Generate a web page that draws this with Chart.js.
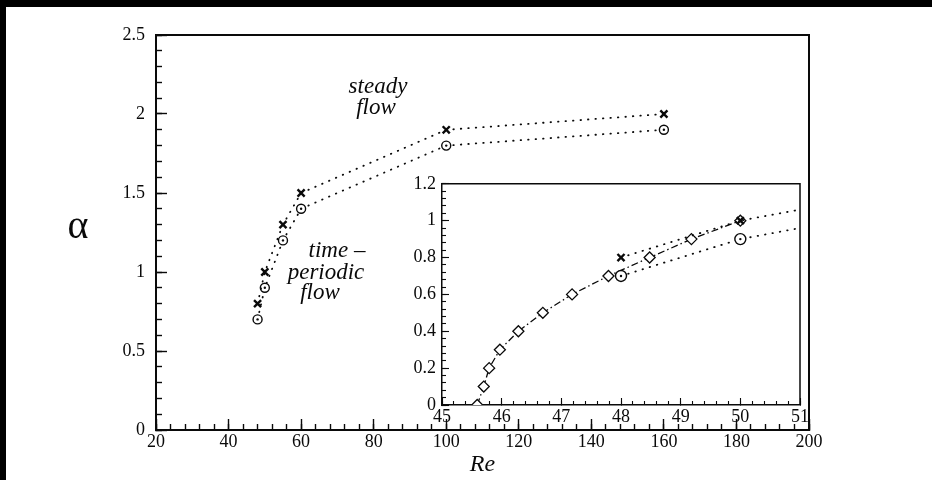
<!DOCTYPE html>
<html><head><meta charset="utf-8">
<script src="https://cdn.jsdelivr.net/npm/chart.js@4.4.1/dist/chart.umd.min.js"></script>
<style>
html,body{margin:0;padding:0;background:#000;width:932px;height:480px;overflow:hidden}
#paper{position:absolute;left:6px;top:7px;width:926px;height:473px;background:#fff}
#main{position:absolute;left:0;top:0}
#inset{position:absolute;left:360px;top:160px}
</style></head><body>
<div id="paper"></div>
<canvas id="main" width="932" height="480"></canvas>
<canvas id="inset" width="460" height="270"></canvas>
<script>
// ---- data ----
const reMain      = [48, 50, 55, 60, 100, 160];
const alphaCross  = [0.8, 1.0, 1.3, 1.5, 1.9, 2.0];
const alphaCircle = [0.7, 0.9, 1.2, 1.4, 1.8, 1.9];
const reInset     = [45.59, 45.70, 45.79, 45.97, 46.28, 46.69, 47.18, 47.79, 48.48, 49.18, 50.0];
const alphaInset  = [0, 0.1, 0.2, 0.3, 0.4, 0.5, 0.6, 0.7, 0.8, 0.9, 1.0];
const mainXTicks  = {min: 20, max: 200, major: 20, minor: 4};
const mainYTicks  = {min: 0, max: 2.5, major: 0.5, minor: 0.1};
const insetXTicks = {min: 45, max: 51, major: 1, minor: 0.2};
const insetYTicks = {min: 0, max: 1.2, major: 0.2, minor: 0.04};
const labels = {xTitle: 'Re', yTitle: 'α', steady: ['steady', 'flow'], periodic: ['time –', 'periodic', 'flow']};

const INK = '#0a0a0a';
const FAM = '"Liberation Serif", "Times New Roman", serif';

function pts(xs, ys){ return xs.map((x, i) => ({x: x, y: ys[i]})); }
const fmt = v => String(+Number(v).toFixed(3));

function axes(t, cfg){
  return {
    [cfg.x + 'Minor']: {type: 'linear', position: 'bottom', min: t.x.min, max: t.x.max, weight: 0,
      afterFit(s){ s.height = 0; },
      ticks: {display: false, stepSize: t.x.minor, autoSkip: false},
      grid: {drawOnChartArea: false, tickLength: -cfg.minorLen, tickWidth: cfg.tickW, tickColor: INK},
      border: {display: false}},
    [cfg.x]: {type: 'linear', position: 'bottom', min: t.x.min, max: t.x.max, weight: 1,
      afterFit(s){ s.height = cfg.xH; },
      ticks: {stepSize: t.x.major, autoSkip: false, maxRotation: 0, padding: cfg.xPad, color: INK,
        font: {family: FAM, size: cfg.fs}, callback: fmt},
      grid: {drawOnChartArea: false, tickLength: -cfg.majorLen, tickWidth: cfg.tickW, tickColor: INK},
      border: {display: true, width: cfg.bw, color: INK},
      title: cfg.xTitle ? {display: true, text: cfg.xTitle, color: INK,
        font: {family: FAM, size: 24, style: 'italic'}, padding: {top: 0, bottom: 1}} : {display: false}},
    [cfg.y + 'Minor']: {type: 'linear', position: 'left', min: t.y.min, max: t.y.max, weight: 0,
      afterFit(s){ s.width = 0; },
      ticks: {display: false, stepSize: t.y.minor},
      grid: {drawOnChartArea: false, tickLength: -cfg.minorLen, tickWidth: cfg.tickW, tickColor: INK},
      border: {display: false}},
    [cfg.y]: {type: 'linear', position: 'left', min: t.y.min, max: t.y.max, weight: 1,
      afterFit(s){ s.width = cfg.yW; },
      ticks: {stepSize: t.y.major, padding: cfg.yPad, color: INK, font: {family: FAM, size: cfg.fs}, callback: fmt},
      grid: {drawOnChartArea: false, tickLength: -cfg.majorLen, tickWidth: cfg.tickW, tickColor: INK},
      border: {display: true, width: cfg.bw, color: INK}}
  };
}

const frame = {id: 'frame', afterDraw(chart, args, o){
  const a = chart.chartArea, c = chart.ctx;
  c.save(); c.strokeStyle = INK; c.lineWidth = o.w;
  c.beginPath(); c.moveTo(a.left, a.top); c.lineTo(a.right, a.top); c.lineTo(a.right, a.bottom); c.stroke();
  c.restore();
}};

const notes = {id: 'notes', afterDraw(chart){
  const c = chart.ctx; c.save(); c.fillStyle = INK; c.textAlign = 'center'; c.textBaseline = 'alphabetic';
  c.font = '40px ' + FAM; c.fillText(labels.yTitle, 78, 238);
  c.font = 'italic 23px ' + FAM;
  c.fillText(labels.steady[0], 378, 93); c.fillText(labels.steady[1], 376, 114);
  c.fillText(labels.periodic[0], 337, 257); c.fillText(labels.periodic[1], 326, 279); c.fillText(labels.periodic[2], 320, 299);
  c.restore();
}};

function seriesSets(rCirc, crossR){
  const dotted = {borderColor: INK, borderWidth: 1.8, borderDash: [0.5, 7], borderCapStyle: 'round', tension: 0};
  return [
    // centre dot of the circled markers (first dataset is drawn on top)
    {data: pts(reMain, alphaCircle), showLine: false, pointStyle: 'circle', pointRadius: 1.2,
      pointBorderWidth: 0, pointBackgroundColor: INK},
    Object.assign({data: pts(reMain, alphaCross), pointStyle: 'crossRot', pointRadius: crossR,
      pointBorderWidth: 2.4, pointBorderColor: INK}, dotted),
    Object.assign({data: pts(reMain, alphaCircle), pointStyle: 'circle', pointRadius: rCirc,
      pointBorderWidth: 1.4, pointBorderColor: INK, pointBackgroundColor: '#fff'}, dotted)
  ];
}

Chart.defaults.animation = false;

new Chart(document.getElementById('main'), {
  type: 'line',
  data: {datasets: seriesSets(4.5, 5)},
  options: {
    responsive: false, devicePixelRatio: 1, animation: false,
    layout: {padding: {left: 0, top: 35, right: 123, bottom: 0}},
    plugins: {legend: {display: false}, tooltip: {enabled: false}, frame: {w: 2}},
    scales: axes({x: mainXTicks, y: mainYTicks},
      {x: 'x', y: 'y', minorLen: 6, majorLen: 11, tickW: 1.4, bw: 2, fs: 18, xH: 50, yW: 156, xPad: 12, yPad: 22, xTitle: labels.xTitle})
  },
  plugins: [frame, notes]
});

new Chart(document.getElementById('inset'), {
  type: 'line',
  data: {datasets: seriesSets(5.5, 5).concat([
    {data: pts(reInset, alphaInset), borderColor: INK, borderWidth: 1.3, borderDash: [7, 3, 1.5, 3], tension: 0,
      pointStyle: 'rectRot', pointRadius: 5.5, pointBorderWidth: 1.3, pointBorderColor: INK, pointBackgroundColor: '#fff'}
  ])},
  options: {
    responsive: false, devicePixelRatio: 1, animation: false,
    layout: {padding: {left: 0, top: 17, right: 20, bottom: 0}},
    plugins: {legend: {display: false}, tooltip: {enabled: false}, frame: {w: 1.5}},
    scales: axes({x: insetXTicks, y: insetYTicks},
      {x: 'x', y: 'y', minorLen: 4, majorLen: 7, tickW: 1.1, bw: 1.5, fs: 18, xH: 25, yW: 82, xPad: 8, yPad: 13, xTitle: null})
  },
  plugins: [frame]
});
</script>
</body></html>
